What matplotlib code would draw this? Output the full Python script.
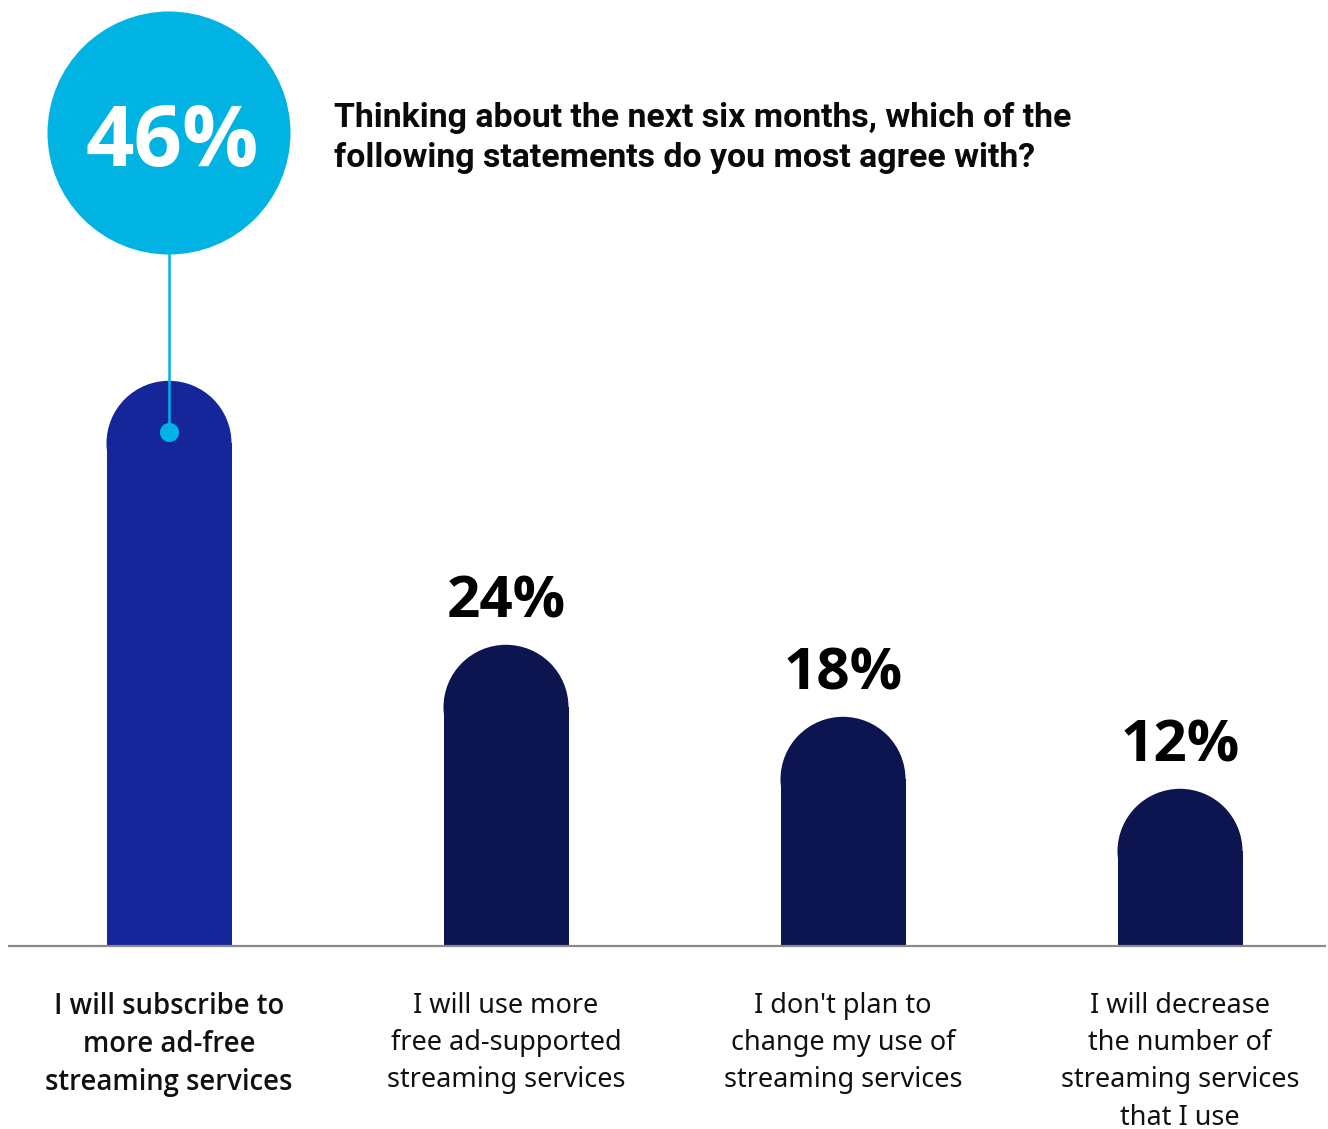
import matplotlib
matplotlib.use("Agg")
import matplotlib.pyplot as plt
from matplotlib.patches import Rectangle, Ellipse

# survey results
labels = [
    "I will subscribe to\nmore ad-free\nstreaming services",
    "I will use more\nfree ad-supported\nstreaming services",
    "I don't plan to\nchange my use of\nstreaming services",
    "I will decrease\nthe number of\nstreaming services\nthat I use",
]
values = [46, 24, 18, 12]
title = "Thinking about the next six months, which of the\nfollowing statements do you most agree with?"

W, H = 1328, 1129
fig = plt.figure(figsize=(W / 100, H / 100), dpi=100)
ax = fig.add_axes([0, 0, 1, 1])
ax.set_axis_off()

# pixel mapping: 337 px per category, 12 px per percentage point
floor = -1.1
ax.set_xlim(-169 / 337, (W - 169) / 337)
ax.set_ylim(floor - (H - 946) / 12, floor + 946 / 12)

px_x = W / (ax.get_xlim()[1] - ax.get_xlim()[0])
px_y = H / (ax.get_ylim()[1] - ax.get_ylim()[0])
hw = 62.5 / px_x          # bar half width in data units
ry = hw * px_x / px_y     # cap radius in y units

dark = "#0c1550"
highlight = "#14269a"
cyan = "#00b3e3"

for i, v in enumerate(values):
    col = highlight if i == 0 else dark
    ax.add_patch(Rectangle((i - hw, floor), 2 * hw, v - ry - floor,
                           facecolor=col, edgecolor="none"))
    ax.add_patch(Ellipse((i, v - ry), 2 * hw, 2 * ry,
                         facecolor=col, edgecolor="none"))
    if i > 0:
        ax.text(i, v + 2.3, f"{v}%", ha="center", va="baseline",
                fontsize=42, fontweight="bold", family="Open Sans",
                color="#000000")
    if i == 0:
        ax.text(i, floor - 46 / px_y, labels[i], ha="center", va="top",
                fontsize=19.8, family="Open Sans", linespacing=1.41,
                fontweight="semibold", color="#111111")
    else:
        ax.text(i, floor - 46 / px_y, labels[i], ha="center", va="top",
                fontsize=19.5, family="Noto Sans", linespacing=1.44,
                color="#111111")

# baseline
ax.plot([8 / px_x + ax.get_xlim()[0], 1326 / px_x + ax.get_xlim()[0]],
        [floor, floor], color="#8a8a8a", lw=1.6, solid_capstyle="butt")

# highlight bubble and connector
bx, by = 0, floor + (946 - 133) / 12
r = 121.5
dot_y = values[0] - 4.3
ax.plot([bx, bx], [by - r / px_y, dot_y], color=cyan, lw=1.8, zorder=3)
ax.scatter([bx], [dot_y], s=190, color=cyan, zorder=4, linewidths=0)
ax.add_patch(Ellipse((bx, by), 2 * r / px_x, 2 * r / px_y,
                     facecolor=cyan, edgecolor="none", zorder=5))
ax.text(bx + 3 / px_x, by - 33 / px_y, f"{values[0]}%", ha="center",
        va="baseline", fontsize=61, fontweight="bold", family="Open Sans",
        color="white", zorder=6)

ax.text(334 / W, 1 - 102 / H, title, transform=ax.transAxes,
        ha="left", va="top", fontsize=24.4, fontweight="bold",
        family="Roboto", linespacing=1.32, color="#0a0a0a")

fig.savefig("out.png", dpi=100)
